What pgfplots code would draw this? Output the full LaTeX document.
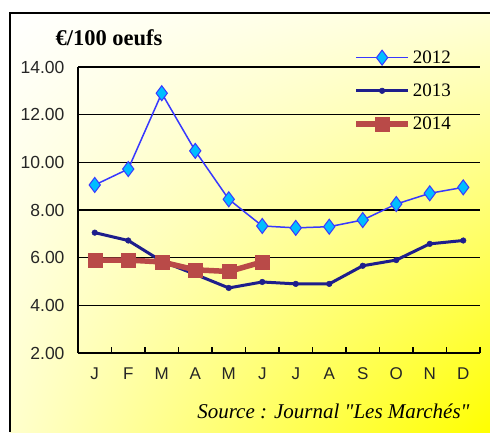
\documentclass[border=0pt]{standalone}
\usepackage{pgfplots}
\pgfplotsset{compat=1.18}
\usetikzlibrary{shadings}
\usepackage{fontspec}
\setmainfont{Liberation Serif}
\newfontfamily\arial{Liberation Sans}
\newfontfamily\srcfont{Liberation Serif}[Ligatures=TeXOff]
\definecolor{yl1}{RGB}{255,255,215}
\definecolor{yl2}{RGB}{255,255,205}
\definecolor{c12line}{RGB}{56,56,255}
\definecolor{c12mark}{RGB}{0,190,255}
\definecolor{c13}{RGB}{30,30,140}
\definecolor{c14}{RGB}{185,74,72}
\begin{document}
\begin{tikzpicture}[x=1pt,y=1pt]
\useasboundingbox (0,0) rectangle (490,432);
\fill[white] (0,0) rectangle (490,432);
\shade[upper left=white, upper right=yl1, lower left=yl2, lower right=yellow] (10,0) rectangle (490,419);
\draw[line width=1.5pt] (10,0) -- (10,419) -- (490,419);
\node[anchor=west, font=\bfseries\fontsize{22.5}{25}\selectfont] at (52,394) {€/100 oeufs};
\node[anchor=east, font=\srcfont\itshape\fontsize{21}{24}\selectfont] at (473,21) {Source : Journal "Les Marchés"};
\begin{axis}[
  at={(78pt,79pt)}, anchor=south west, scale only axis,
  width=402pt, height=286pt,
  xmin=-0.5, xmax=11.5, ymin=2, ymax=14,
  axis x line*=bottom, axis y line*=left,
  axis line style={line width=1.5pt, -},
  xtick={0,...,11},
  xticklabels={J,F,M,A,M,J,J,A,S,O,N,D},
  minor xtick={-0.5,0.5,...,11.5},
  major x tick style={draw=none},
  minor x tick style={line width=1.2pt, black},
  minor tick length=6pt,
  tick align=inside,
  ytick={2,4,...,14},
  y tick style={draw=none},
  ymajorgrids,
  grid style={line width=1.3pt, black},
  /pgf/number format/assume math mode=true,
  /pgf/number format/fixed, /pgf/number format/fixed zerofill, /pgf/number format/precision=2,
  tick label style={black!85},
  xticklabel style={yshift=-11pt, font=\arial\fontsize{17}{19}\selectfont},
  yticklabel style={xshift=-10pt, font=\arial\fontsize{17.5}{19}\selectfont},
  legend style={at={(0.677,1.072)}, anchor=north west, draw=none, fill=none,
    font=\fontsize{19}{21}\selectfont, row sep=15pt,
    /tikz/every even column/.style={column sep=7pt}},
  legend cell align=left,
  legend image code/.code={\draw[mark repeat=2,mark phase=2,#1] plot coordinates {(0pt,0pt)(26pt,0pt)(52pt,0pt)};},
]
\addplot[c12line, line width=1.5pt, mark=diamond*, mark size=7.5pt,
  mark options={fill=c12mark, draw=c12line, line width=1pt}] coordinates {
(0,9.05)(1,9.72)(2,12.9)(3,10.48)(4,8.45)(5,7.33)(6,7.25)(7,7.3)(8,7.58)(9,8.25)(10,8.7)(11,8.95)};
\addlegendentry{2012}
\addplot[c13, line width=3pt, mark=*, mark size=2.8pt, mark options={fill=c13, draw=c13, line width=0.5pt}] coordinates {
(0,7.05)(1,6.72)(2,5.85)(3,5.3)(4,4.73)(5,4.98)(6,4.9)(7,4.9)(8,5.66)(9,5.9)(10,6.58)(11,6.72)};
\addlegendentry{2013}
\addplot[c14, line width=5.5pt, mark=square*, mark size=7pt, mark options={fill=c14, draw=c14, line width=0.5pt}] coordinates {
(0,5.9)(1,5.9)(2,5.82)(3,5.49)(4,5.42)(5,5.82)};
\addlegendentry{2014}
\end{axis}
\end{tikzpicture}
\end{document}
